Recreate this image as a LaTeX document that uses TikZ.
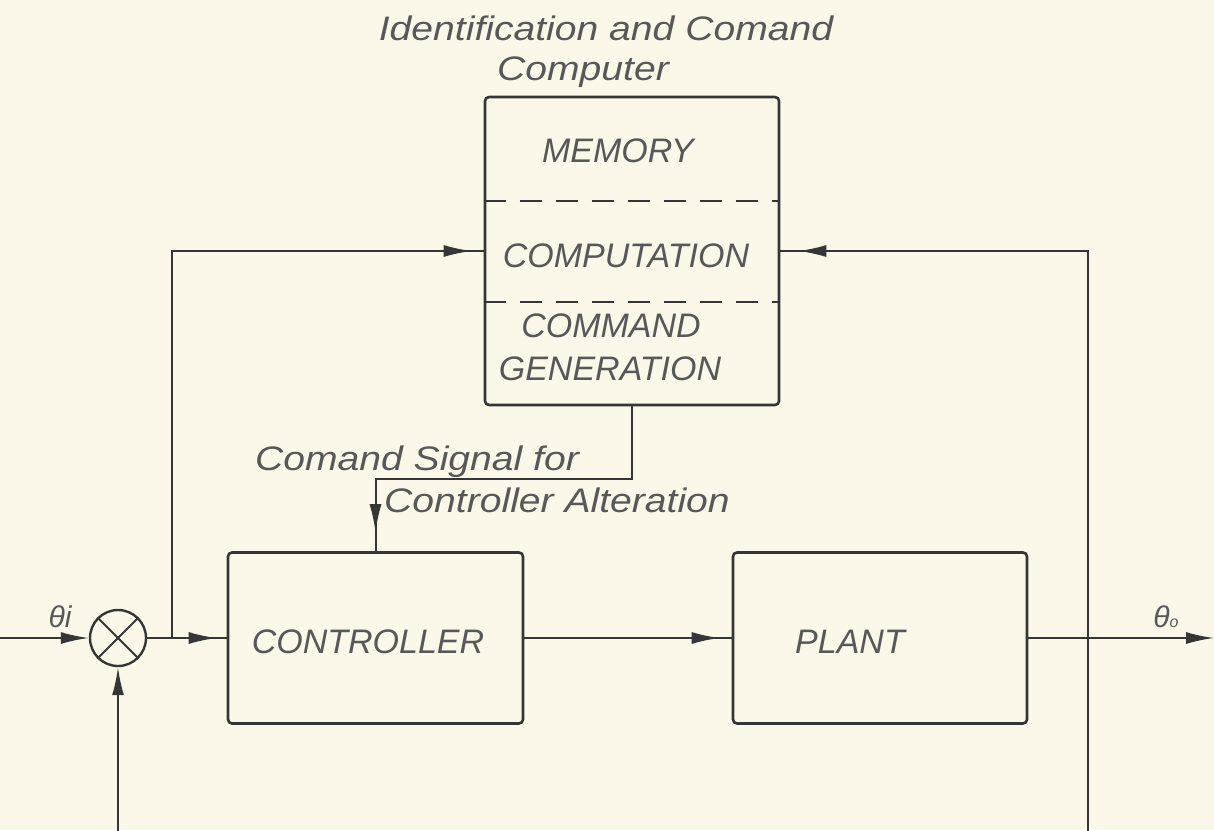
\documentclass[tikz,border=0pt]{standalone}
\usepackage{fontspec}
\setmainfont{Liberation Sans}
\newfontfamily\handfont[FakeStretch=1.15]{Liberation Sans}
\usetikzlibrary{arrows.meta,decorations.markings,calc}
\definecolor{paper}{HTML}{FBF8E9}
\definecolor{ink}{HTML}{363636}
\definecolor{txt}{HTML}{585858}
\begin{document}
\begin{tikzpicture}[x=1pt,y=-1pt,
  blk/.style={draw=ink, line width=2.6pt, rounded corners=4pt, inner sep=0pt},
  conn/.style={draw=ink, color=ink, line width=2pt},
  tipend/.style={-{Latex[length=28pt,width=12pt]}},
  arrat/.style={postaction={decorate}, decoration={markings, mark=at position #1 with {\arrow{Latex[length=28pt,width=12pt]}}}},
  lbl/.style={text=txt, font=\fontsize{34}{40}\selectfont\itshape, anchor=base, inner sep=0pt},
  note/.style={text=txt, font=\handfont\fontsize{34}{40}\selectfont\itshape, anchor=base, inner sep=0pt},
  sym/.style={text=txt, font=\fontsize{30}{34}\selectfont\itshape, anchor=base, inner sep=0pt}]
\useasboundingbox (0,0) rectangle (1214,830);
\fill[paper] (0,0) rectangle (1214,830);
\clip (0,0) rectangle (1214,830);

% blocks
\node[blk, minimum width=294pt, minimum height=308pt] (icc) at (632,251) {};
\node[blk, minimum width=295pt, minimum height=171pt] (ctrl) at (375.5,638) {};
\node[blk, minimum width=294pt, minimum height=171pt] (plant) at (880,638) {};
\node[draw=ink, line width=2.4pt, circle, minimum size=56pt, inner sep=0pt] (sum) at (118,638) {};
\draw[conn] (sum.north west) -- (sum.south east);
\draw[conn] (sum.north east) -- (sum.south west);

% dashed separators
\draw[draw=ink, line width=2pt, dash pattern=on 22pt off 14pt] (icc.west |- 0,201) -- (icc.east |- 0,201);
\draw[draw=ink, line width=2pt, dash pattern=on 22pt off 14pt] (icc.west |- 0,302) -- (icc.east |- 0,302);

% texts
\node[note] (t1) at (606,40) {Identification and Comand};
\node[note] (t2) at (583,80) {Computer};
\node[lbl] (mem) at (618,162) {MEMORY};
\node[lbl] (comp) at (626,267) {COMPUTATION};
\node[lbl] (cmd1) at (611,337) {COMMAND};
\node[lbl] (cmd2) at (610,380) {GENERATION};
\node[lbl] (ctl) at (368,653) {CONTROLLER};
\node[lbl] (pl) at (850,653) {PLANT};
\node[note] (c1) at (417,470) {Comand Signal for};
\node[note] (c2) at (557,512) {Controller Alteration};
\node[sym] (thi) at (60,627) {θi};
\node[sym] (tho) at (1166,627) {θ{\fontsize{16}{16}\selectfont o}};

% coordinates
\coordinate (in) at (0,638);
\coordinate (out) at (1214,638);
\coordinate (jl) at (172,638);
\coordinate (jr) at (1088,638);
\coordinate (br) at (1088,832);
\coordinate (cmd) at (632,479);

% connectors
\draw[conn, tipend] (in) -- (sum.west);
\draw[conn, arrat=-10pt] (sum.east) -- (ctrl.west);
\draw[conn, arrat=-12pt] (ctrl.east) -- (plant.west);
\draw[conn, tipend] (plant.east) -- (out);
\draw[conn, arrat=-12pt] (jl) |- (icc.west);
\draw[conn, arrat=-18pt] (jr) |- (icc.east);
\draw[conn, tipend] (jr) -- (br) -| (sum.south);
\draw[conn, arrat=-19pt] (icc.south) -- (cmd) -| (ctrl.north);
\end{tikzpicture}
\end{document}
